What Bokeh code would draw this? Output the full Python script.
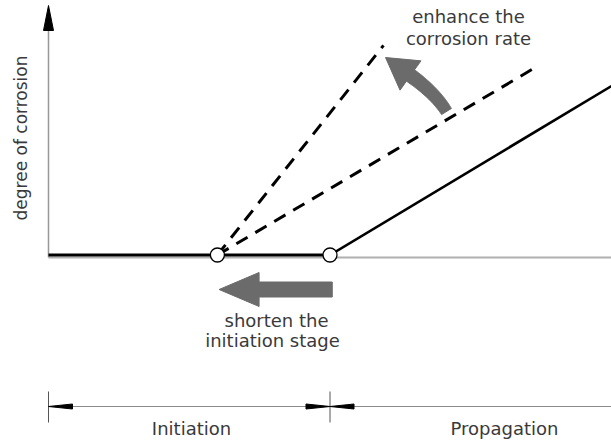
import numpy as np
from bokeh.plotting import figure
from bokeh.models import Range1d
from bokeh.core.properties import value
from bokeh.embed import file_html
from bokeh.resources import INLINE

# ---------------- data (schematic values) ----------------
stage_labels = ["Initiation", "Propagation"]
t_initiation = 5.0          # end of initiation stage (reference case)
t_shortened = 3.0           # end of shortened initiation stage
t_end = 10.0
base_t = [0.0, 5.0]         # zero corrosion during initiation
base_d = [0.0, 0.0]
prop_t = [5.0, 10.0]        # propagation, reference rate
prop_d = [0.0, 5.0]
fast_t = [3.0, 5.95]        # shortened initiation + enhanced rate
fast_d = [0.0, 6.2]
early_t = [3.0, 8.7]        # shortened initiation, same rate
early_d = [0.0, 5.6]
onset_t = [3.0, 5.0]        # onset markers
onset_d = [0.0, 0.0]
boundary_t = [0.0, 5.0]     # stage boundaries on the dimension line
y_label = "degree of corrosion"
note_rate = ["enhance the", "corrosion rate"]
note_init = ["shorten the", "initiation stage"]

# ---------------- geometry helpers ----------------
W, H = 611, 441
OX, OY = 48.0, 254.5        # pixel of the origin
SX, SY = 56.3, 33.8         # pixels per unit
TOFF = 7.0                  # text baseline correction (px)


def ix(px):
    return (px - OX) / SX


def iy(py):
    return (OY - py) / SY


FONT = value("DejaVu Sans")
TXT = "#3a3a3a"
ARROW_GREY = "#6b6b6b"

p = figure(width=W, height=H, x_range=Range1d(ix(0), ix(W)), y_range=Range1d(iy(H), iy(0)),
           output_backend="svg", toolbar_location=None, min_border=0,
           x_axis_location=None, y_axis_location=None, outline_line_color=None,
           background_fill_color="white", border_fill_color="white")
p.grid.visible = False

# y axis with arrow head
p.line([0, 0], [iy(257), iy(30)], line_color="#999999", line_width=1.5)
p.patch([0, -5 / SX, 5 / SX], [iy(5), iy(30), iy(30)], fill_color="black", line_color="black")

# x axis (grey)
p.line([0, t_end], [iy(257), iy(257)], line_color="#b0b0b0", line_width=2)

# initiation baseline and propagation
p.line(base_t, base_d, line_color="black", line_width=3)
p.line(prop_t, prop_d, line_color="black", line_width=2.6)
p.line(fast_t, fast_d, line_color="black", line_width=3, line_dash="13 9")
p.line(early_t, early_d, line_color="black", line_width=3, line_dash="13 9")
p.scatter(onset_t, onset_d, size=14, fill_color="white", line_color="black", line_width=1.3)

# straight grey arrow (shorten initiation)
yc = iy(289)
bh, hh, hl = 7.5 / SY, 17 / SY, 40 / SX
x_tip = t_shortened + 0.03
x_tail = t_initiation + 0.04
p.patch([x_tip, x_tip + hl, x_tip + hl, x_tail, x_tail, x_tip + hl, x_tip + hl],
        [yc, yc + hh, yc + bh, yc + bh, yc - bh, yc - bh, yc - hh],
        fill_color=ARROW_GREY, line_color=ARROW_GREY)

# curved grey arrow (enhance rate) built in pixel space
P0 = np.array([446.0, 111.0])
P1 = np.array([434.5, 92.5])
P2 = np.array([410.0, 75.0])
TIP = np.array([385.0, 57.0])
tt = np.linspace(0, 1, 40)[:, None]
pts = (1 - tt) ** 2 * P0 + 2 * (1 - tt) * tt * P1 + tt ** 2 * P2
der = 2 * (1 - tt) * (P1 - P0) + 2 * tt * (P2 - P1)
der = der / np.linalg.norm(der, axis=1)[:, None]
nrm = np.column_stack([-der[:, 1], der[:, 0]])
hw = np.linspace(5.8, 7.0, len(tt))[:, None]
left = pts + nrm * hw
right = pts - nrm * hw
ne = nrm[-1]
head_a = P2 + ne * 18
head_b = P2 - ne * 18
poly = np.vstack([left, head_a[None, :], TIP[None, :], head_b[None, :], right[::-1]])
p.patch([ix(v) for v in poly[:, 0]], [iy(v) for v in poly[:, 1]],
        fill_color=ARROW_GREY, line_color=ARROW_GREY)

# dimension line at the bottom
yd = iy(406)
p.line([0, t_end], [yd, yd], line_color="#8a8a8a", line_width=1)
for bt in boundary_t:
    p.line([bt, bt], [iy(391), iy(422)], line_color="#555555", line_width=1)
al, ah = 24 / SX, 2.5 / SY
# arrow heads pointing to the boundaries
heads = [(boundary_t[0], 1), (boundary_t[1], -1), (boundary_t[1], 1)]
for bt, sgn in heads:
    p.patch([bt, bt + sgn * al, bt + sgn * al], [yd, yd + ah, yd - ah],
            fill_color="black", line_color="black")

# texts
p.text(x=[ix(191), ix(504)], y=[iy(434.5 - TOFF)] * 2, text=stage_labels,
       text_font=FONT, text_font_size="18px", text_align="center",
       text_baseline="alphabetic", text_color=TXT)
p.text(x=[ix(468), ix(468)], y=[iy(22.7 - TOFF), iy(45 - TOFF)], text=note_rate,
       text_font=FONT, text_font_size="18px", text_align="center",
       text_baseline="alphabetic", text_color=TXT)
p.text(x=[ix(276), ix(272)], y=[iy(327 - TOFF), iy(347 - TOFF)], text=note_init,
       text_font=FONT, text_font_size="18px", text_align="center",
       text_baseline="alphabetic", text_color=TXT)
p.text(x=[ix(26 - 6)], y=[iy(137.5)], text=[y_label], angle=np.pi / 2,
       text_font=FONT, text_font_size="17px", text_align="center",
       text_baseline="alphabetic", text_color=TXT)

open("out.html", "w").write(file_html(p, INLINE))
